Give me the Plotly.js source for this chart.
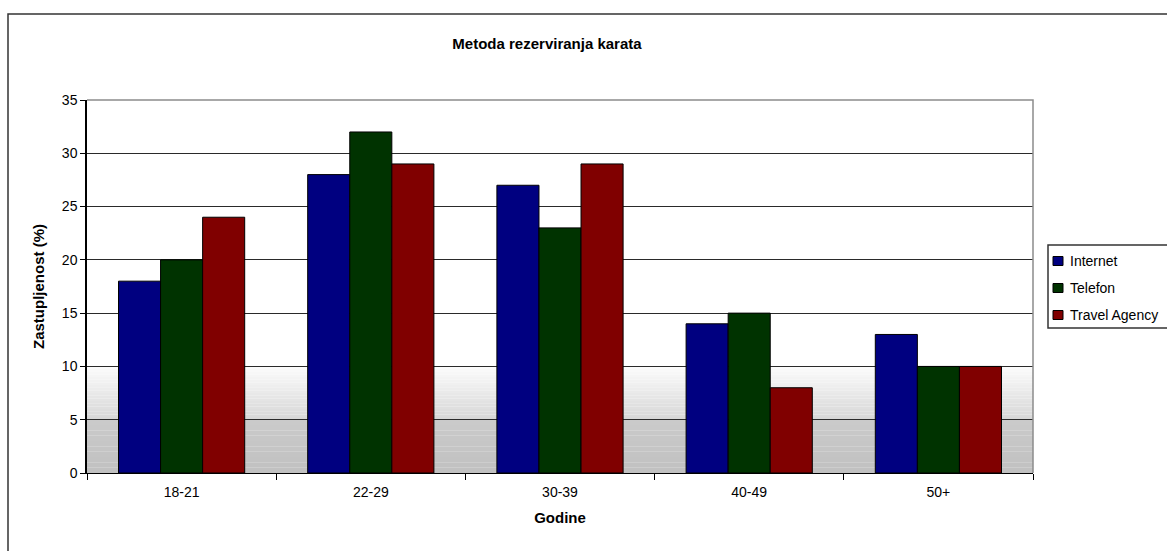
<!DOCTYPE html>
<html>
<head>
<meta charset="utf-8">
<script src="https://cdn.plot.ly/plotly-3.0.1.min.js"></script>
<style>
  html, body { margin: 0; padding: 0; background: #fff; }
  #chart { width: 1167px; height: 551px; }
</style>
</head>
<body>
<div id="chart"></div>
<script>
// ---- data ----
const categories = ["18-21", "22-29", "30-39", "40-49", "50+"];
const internet = [18, 28, 27, 14, 13];
const telefon = [20, 32, 23, 15, 10];
const travelAgency = [24, 29, 29, 8, 10];
const seriesNames = ["Internet", "Telefon", "Travel Agency"];
const yTicks = [0, 5, 10, 15, 20, 25, 30, 35];

const FONT = "Liberation Sans, Arial, sans-serif";
const colors = ["#000080", "#003300", "#800000"];
const seriesValues = [internet, telefon, travelAgency];

// plot area geometry in pixels (for paper-coordinate conversions)
const W = 1167, H = 551;
const PL = 87, PR = 1033, PT = 100, PB = 473;
const px = v => (v - PL) / (PR - PL);
const py = v => (PB - v) / (PB - PT);

const traces = seriesValues.map((vals, i) => ({
  type: "bar",
  name: seriesNames[i],
  x: categories,
  y: vals,
  showlegend: false,
  marker: { color: colors[i], line: { color: "#000", width: 1 } },
  hoverinfo: "x+y+name"
}));

// plot-area background gradient bands (styling)
const shapes = [];
function addGradient(yTop, yBot, cTop, cBot, n) {
  for (let k = 0; k < n; k++) {
    const t = (k + 0.5) / n;
    const c = Math.round(cTop + (cBot - cTop) * t);
    const y1 = yTop - (yTop - yBot) * k / n;
    const y0 = yTop - (yTop - yBot) * (k + 1) / n;
    shapes.push({
      type: "rect", xref: "paper", yref: "y", x0: 0, x1: 1, y0: y0, y1: y1,
      fillcolor: `rgb(${c},${c},${c})`, line: { width: 0 }, layer: "below"
    });
  }
}
addGradient(10, 5, 252, 214, 20);
addGradient(5, 0, 202, 192, 10);

// top and right border of plot area (gray)
shapes.push({
  type: "path", xref: "paper", yref: "paper", path: "M0,1 L1,1 L1,0",
  line: { color: "#8c8c8c", width: 1.5 }, layer: "above"
});
// outer chart frame
shapes.push({
  type: "rect", xref: "paper", yref: "paper",
  x0: px(8), x1: px(W + 60), y0: py(H + 60), y1: py(14),
  line: { color: "#333", width: 1.5 }, fillcolor: "rgba(0,0,0,0)", layer: "above"
});

// legend (box, swatches, labels)
const annotations = [];
shapes.push({
  type: "rect", xref: "paper", yref: "paper",
  x0: px(1048), x1: px(W + 40), y0: py(328), y1: py(245),
  line: { color: "#333", width: 1.5 }, fillcolor: "#fff", layer: "above"
});
const legendRows = [261, 288, 315];
seriesNames.forEach((name, i) => {
  const cy = legendRows[i];
  shapes.push({
    type: "rect", xref: "paper", yref: "paper",
    x0: px(1053), x1: px(1063), y0: py(cy + 4.5), y1: py(cy - 4.5),
    line: { color: "#000", width: 1 }, fillcolor: colors[i], layer: "above"
  });
  annotations.push({
    xref: "paper", yref: "paper", x: px(1068), y: py(cy),
    xanchor: "left", yanchor: "middle", showarrow: false,
    text: name, font: { family: FONT, size: 14, color: "#000" }
  });
});

const layout = {
  width: W, height: H,
  margin: { l: PL, r: W - PR, t: PT, b: H - PB, autoexpand: false },
  paper_bgcolor: "#fff",
  plot_bgcolor: "#fff",
  font: { family: FONT, size: 14, color: "#000" },
  title: {
    text: "<b>Metoda rezerviranja karata</b>",
    font: { family: FONT, size: 15, color: "#000" },
    xref: "container", x: 547 / W, xanchor: "center",
    yref: "container", y: 1 - 44 / H, yanchor: "middle"
  },
  barmode: "group",
  bargap: 0.333,
  bargroupgap: 0,
  xaxis: {
    type: "category",
    tickson: "boundaries",
    ticks: "outside", ticklen: 6, tickwidth: 1, tickcolor: "#000",
    ticklabelstandoff: 6,
    showline: true, linecolor: "#000", linewidth: 1,
    showgrid: false, zeroline: false,
    tickfont: { family: FONT, size: 14, color: "#000" },
    title: { text: "<b>Godine</b>", font: { family: FONT, size: 15, color: "#000" }, standoff: 13 }
  },
  yaxis: {
    range: [0, 35],
    tickvals: yTicks,
    ticks: "outside", ticklen: 5, tickwidth: 1, tickcolor: "#000",
    showline: true, linecolor: "#000", linewidth: 1.5,
    showgrid: true, gridcolor: "#2a2a2a", gridwidth: 1,
    zeroline: false,
    tickfont: { family: FONT, size: 14, color: "#000" },
    title: { text: "<b>Zastupljenost (%)</b>", font: { family: FONT, size: 15, color: "#000" }, standoff: 14 }
  },
  showlegend: false,
  shapes: shapes,
  annotations: annotations
};

Plotly.newPlot("chart", traces, layout, { displayModeBar: false, responsive: false });
</script>
</body>
</html>
